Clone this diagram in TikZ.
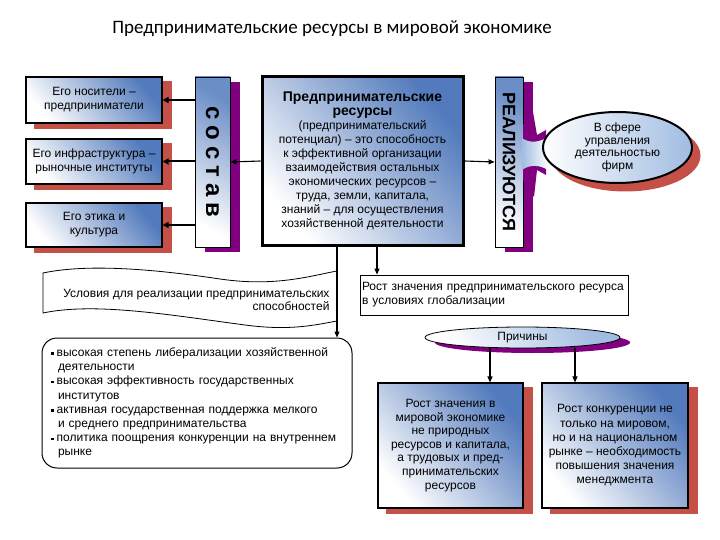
\documentclass[tikz,border=0pt]{standalone}
\usepackage{fontspec}
\setmainfont{Liberation Sans}
\newfontfamily\titlefont{Carlito}
\usetikzlibrary{arrows.meta,shapes.geometric,backgrounds,calc}
\definecolor{bblue}{RGB}{82,122,188}
\definecolor{lblue}{RGB}{160,188,225}
\definecolor{sred}{RGB}{196,80,72}
\definecolor{spurp}{RGB}{128,0,128}
\newcommand\mbf[1]{{\bfseries\fontsize{14}{15}\selectfont #1}}
\newcommand\bul{\raisebox{1.5pt}{\rule{2.7pt}{2.7pt}}\hspace{3pt}}
\tikzset{
 grad/.style={top color=bblue, bottom color=white, shading angle=-50},
 txt/.style={font=\fontsize{12}{13.8}\selectfont},
 gbox/.style={draw=black, line width=1.1pt, grad, align=center, inner sep=2pt, txt},
 bar/.style={draw=black, line width=0.8pt, top color=bblue!85, bottom color=white, shading angle=-30},
 conn/.style={line width=1.1pt, -{Triangle[length=6pt,width=5pt]}},
 bconn/.style={line width=2pt, -{Triangle[length=6pt,width=6pt]}}
}
\begin{document}
\begin{tikzpicture}[x=1pt,y=-1pt]
\useasboundingbox (0,0) rectangle (720,540);

\node[font=\titlefont\fontsize{19}{21}\selectfont] (title) at (332,29) {Предпринимательские ресурсы в мировой экономике};

\node[gbox, minimum width=136pt, minimum height=46pt] (b1) at (94,100) {Его носители –\\предприниматели};
\node[gbox, minimum width=136pt, minimum height=45pt] (b2) at (94,161.5) {Его инфраструктура –\\рыночные институты};
\node[gbox, minimum width=136pt, minimum height=44pt] (b3) at (94,225) {Его этика и\\культура};

\node[bar, minimum width=35pt, minimum height=170pt] (sostav) at (212.5,162) {};
\node[rotate=-90, font=\fontsize{24}{24}\bfseries] at (sostav.center) {с\hspace{6pt}о\hspace{6pt}с\hspace{6pt}т\hspace{6pt}а\hspace{6pt}в};

\node[gbox, line width=3pt, minimum width=201pt, minimum height=168pt, font=\fontsize{12}{14}\selectfont] (mainb) at (362.5,161) {\mbf{Предпринимательские}\\\mbf{ресурсы}\\(предпринимательский\\потенциал) – это способность\\к эффективной организации\\взаимодействия остальных\\экономических ресурсов –\\труда, земли, капитала,\\знаний – для осуществления\\хозяйственной деятельности};

\node[bar, minimum width=28pt, minimum height=170pt] (real) at (509,162) {};
\node[rotate=-90, font=\fontsize{18}{18}\bfseries] at (real.center) {РЕАЛИЗУЮТСЯ};

% jagged link
\fill[spurp] (523,125) -- (533,112) -- (537,135) -- (546,130) -- (546,175) -- (537,170) -- (534,197) -- (523,180) -- cycle;
\shade[left color=lblue, right color=white] (522,138) .. controls (530,144) and (540,142) .. (548,137) -- (548,170) .. controls (540,165) and (530,164) .. (522,170) -- cycle;

\node[ellipse, draw=black, line width=2pt, left color=white, right color=lblue, minimum width=149pt, minimum height=71pt, align=center, font=\fontsize{12}{12.7}\selectfont, inner sep=0pt] (sfera) at (617.5,147.5) {В сфере\\управления\\деятельностью\\фирм};

% wave banner
\draw[line width=0.8pt] (43,273) .. controls (90,263) and (160,270) .. (220,279) .. controls (275,287) and (310,276) .. (337,271) -- (337,321) .. controls (315,325) and (290,331) .. (245,325) .. controls (170,315) and (95,302) .. (43,313) -- cycle;
\node[txt, align=right, anchor=east] (usl) at (333,300) {Условия для реализации предпринимательских\\способностей};

\node[draw, line width=1pt, rounded corners=15pt, text width=292pt, inner xsep=9pt, minimum height=130pt, align=left, font=\fontsize{12}{14.2}\selectfont] (cond) at (197,403) {\bul высокая степень либерализации хозяйственной\\\hspace*{7pt}деятельности\\\bul высокая эффективность государственных\\\hspace*{7pt}институтов\\\bul активная государственная поддержка мелкого\\\hspace*{7pt}и среднего предпринимательства\\\bul политика поощрения конкуренции на внутреннем\\\hspace*{7pt}рынке};

\node[draw, line width=0.8pt, txt, text width=264pt, inner xsep=2pt, minimum height=40pt, align=left] (rost) at (494,295) {Рост значения предпринимательского ресурса\\в условиях глобализации};

\node[ellipse, draw, line width=0.8pt, top color=lblue, bottom color=white, shading angle=-60, minimum width=195pt, minimum height=21pt, inner sep=0pt, txt] (prich) at (522.5,337.5) {Причины};

\node[gbox, font=\fontsize{12}{13.6}\selectfont, minimum width=145pt, minimum height=125pt] (b4) at (450.5,445.5) {Рост значения в\\мировой экономике\\не природных\\ресурсов и капитала,\\а трудовых и пред-\\принимательских\\ресурсов};
\node[gbox, font=\fontsize{12}{14.2}\selectfont, minimum width=146pt, minimum height=125pt] (b5) at (615,445.5) {Рост конкуренции не\\только на мировом,\\но и на национальном\\рынке – необходимость\\повышения значения\\менеджмента};

\begin{pgfonlayer}{background}
\fill[white] (0,0) rectangle (720,540);
\foreach \n in {b1,b2,b3,b4,b5} \fill[sred] ([shift={(9,5)}]\n.south west) rectangle ([shift={(9,5)}]\n.north east);
\foreach \n in {sostav,real} \fill[spurp] ([shift={(10,5)}]\n.south west) rectangle ([shift={(10,5)}]\n.north east);
\fill[sred] ([shift={(8,8)}]sfera.center) ellipse [x radius=75pt, y radius=36pt];
\fill[spurp] ([shift={(10,5)}]prich.center) ellipse [x radius=97.5pt, y radius=10.5pt];
\end{pgfonlayer}

% connectors
\draw[bconn] (sostav.west |- b1.east) -- (b1.east);
\draw[bconn] (sostav.west |- b2.east) -- (b2.east);
\draw[bconn] (sostav.west |- b3.east) -- (b3.east);
\draw[conn] (mainb.west) -- (sostav.east);
\draw[conn] (mainb.east) -- (real.west);
\coordinate (wr) at (337,0);
\coordinate (ra) at (377,0);
\coordinate (p1) at (490,0);
\coordinate (p2) at (575,0);
\draw[conn] (wr |- mainb.south) -- (wr |- cond.north);
\draw[conn] (ra |- mainb.south) -- (ra |- rost.north);
\draw[conn] (p1 |- prich.south) -- (p1 |- b4.north);
\draw[conn] (p2 |- prich.south) -- (p2 |- b5.north);
\end{tikzpicture}
\end{document}
